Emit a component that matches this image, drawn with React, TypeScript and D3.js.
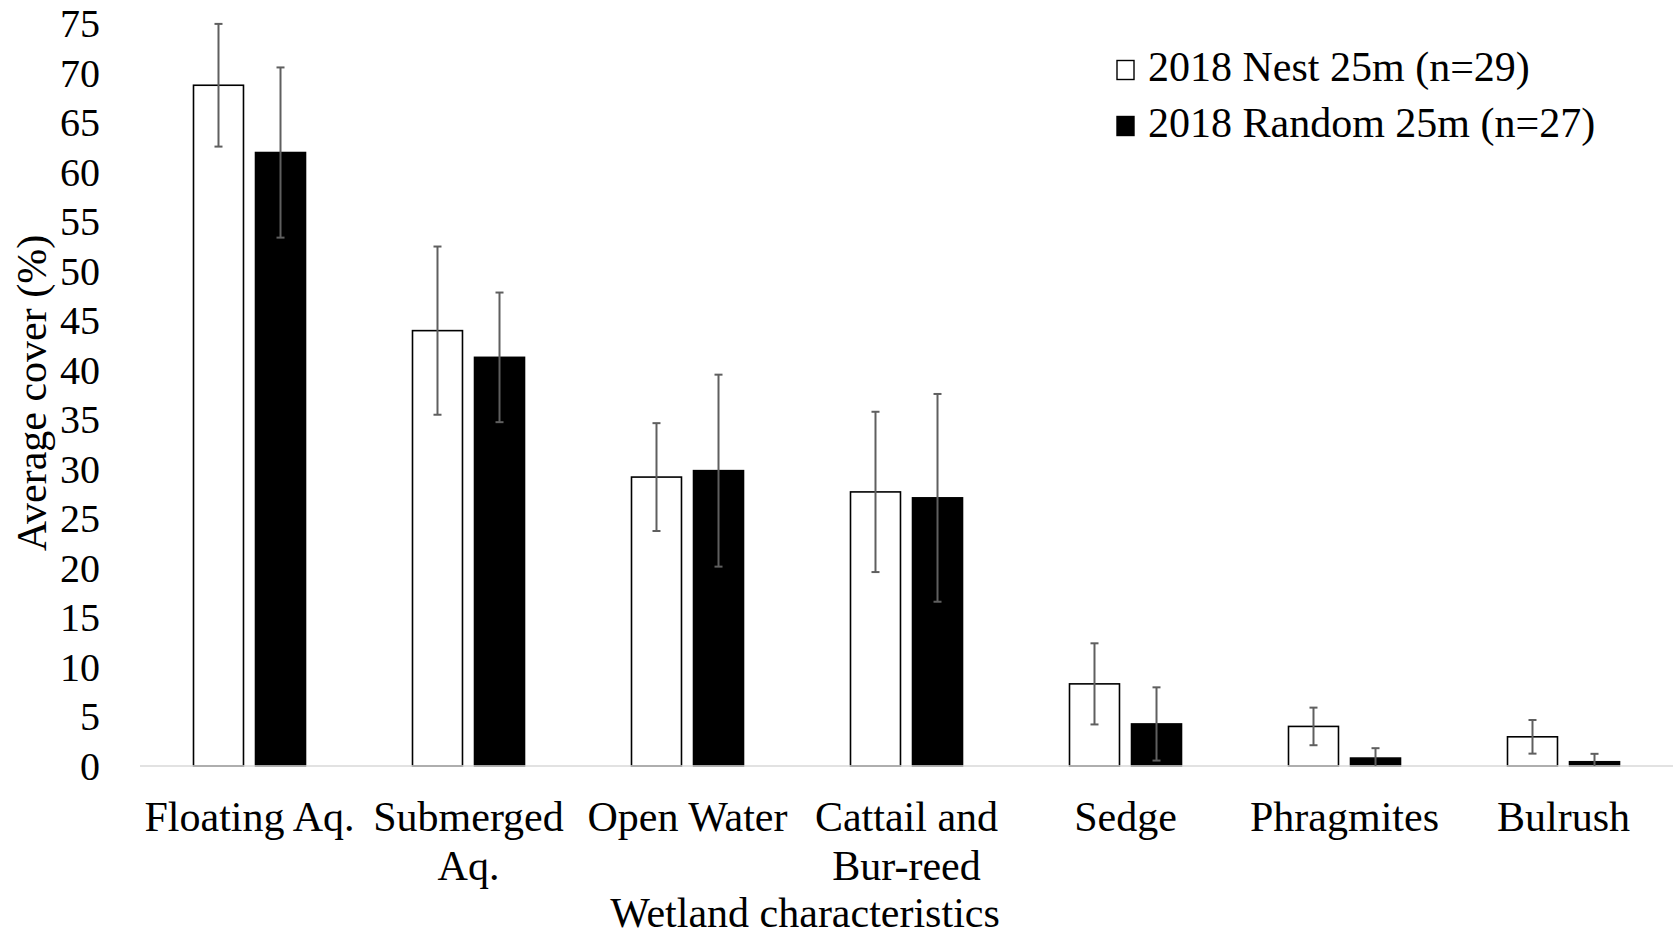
import React from "react";
import * as d3 from "d3";

const categories = [
  "Floating Aq.",
  "Submerged Aq.",
  "Open Water",
  "Cattail and Bur-reed",
  "Sedge",
  "Phragmites",
  "Bulrush",
];
const categoryLines = [
  ["Floating Aq."],
  ["Submerged", "Aq."],
  ["Open Water"],
  ["Cattail and", "Bur-reed"],
  ["Sedge"],
  ["Phragmites"],
  ["Bulrush"],
];
const seriesNames = ["2018 Nest 25m (n=29)", "2018 Random 25m (n=27)"];
const nestMean = [68.8, 44.0, 29.2, 27.7, 8.3, 4.0, 2.95];
const nestErr = [6.2, 8.5, 5.45, 8.1, 4.1, 1.9, 1.7];
const randomMean = [62.0, 41.3, 29.85, 27.1, 4.25, 0.8, 0.43];
const randomErr = [8.6, 6.55, 9.7, 10.5, 3.7, 1.0, 0.8];
const yTicks = [0, 5, 10, 15, 20, 25, 30, 35, 40, 45, 50, 55, 60, 65, 70, 75];

const W = 1677;
const H = 938;
const FONT = "'Liberation Serif', 'Times New Roman', serif";

export default function App() {
  const x = d3.scaleBand<string>().domain(categories).range([140, 1673]).paddingInner(0).paddingOuter(0);
  const y = d3.scaleLinear().domain([0, 75]).range([766, 23.9]);
  const bw = x.bandwidth();
  const xSub = d3
    .scaleBand<string>()
    .domain(seriesNames)
    .range([bw / 2 - 56, bw / 2 + 56])
    .paddingInner(0.194)
    .paddingOuter(0);
  const barW = xSub.bandwidth();

  const series = [
    { name: seriesNames[0], mean: nestMean, err: nestErr, fill: "#ffffff", stroke: "#000000" },
    { name: seriesNames[1], mean: randomMean, err: randomErr, fill: "#000000", stroke: "#000000" },
  ];

  const capHalf = 4;
  const errColor = "#5f5f5f";

  return (
    <div style={{ position: "absolute", left: 0, top: 0 }}>
      <svg width={W} height={H} style={{ display: "block", background: "#fff" }}>
        {/* y tick labels */}
        {yTicks.map((t) => (
          <text
            key={t}
            x={100}
            y={y(t) + 13.5}
            textAnchor="end"
            fontFamily={FONT}
            fontSize={40}
            fill="#000"
          >
            {t}
          </text>
        ))}

        {/* bars */}
        {series.map((s) =>
          categories.map((c, i) => {
            const bx = (x(c) as number) + (xSub(s.name) as number);
            const v = s.mean[i];
            return (
              <rect
                key={s.name + c}
                x={bx}
                y={y(v)}
                width={barW}
                height={y(0) - y(v)}
                fill={s.fill}
                stroke={s.stroke}
                strokeWidth={1.6}
              />
            );
          })
        )}

        {/* x axis line */}
        <line x1={140} x2={1673} y1={y(0)} y2={y(0)} stroke="#d9d9d9" strokeWidth={1.5} />

        {/* error bars */}
        {series.map((s) =>
          categories.map((c, i) => {
            const cx = (x(c) as number) + (xSub(s.name) as number) + barW / 2;
            const v = s.mean[i];
            const e = s.err[i];
            const lo = Math.max(0, v - e);
            const hi = v + e;
            return (
              <g key={"err" + s.name + c} stroke={errColor} strokeWidth={2}>
                <line x1={cx} x2={cx} y1={y(hi)} y2={y(lo)} />
                <line x1={cx - capHalf} x2={cx + capHalf} y1={y(hi)} y2={y(hi)} />
                {v - e > 0 && <line x1={cx - capHalf} x2={cx + capHalf} y1={y(lo)} y2={y(lo)} />}
              </g>
            );
          })
        )}

        {/* category labels */}
        {categories.map((c, i) => {
          const cx = (x(c) as number) + bw / 2;
          return (
            <text key={"lab" + c} x={cx} y={831} textAnchor="middle" fontFamily={FONT} fontSize={42} fill="#000">
              {categoryLines[i].map((ln, j) => (
                <tspan key={j} x={cx} y={831 + j * 48.5}>
                  {ln}
                </tspan>
              ))}
            </text>
          );
        })}

        {/* axis titles */}
        <text x={805} y={927} textAnchor="middle" fontFamily={FONT} fontSize={42} fill="#000">
          Wetland characteristics
        </text>
        <text
          transform="translate(46,393) rotate(-90)"
          textAnchor="middle"
          fontFamily={FONT}
          fontSize={42}
          fill="#000"
        >
          Average cover (%)
        </text>

        {/* legend */}
        {series.map((s, i) => {
          const base = 81 + i * 56;
          return (
            <g key={"leg" + s.name}>
              <rect x={1117} y={base - 20.5} width={17} height={19} fill={s.fill} stroke="#000" strokeWidth={1.4} />
              <text x={1148} y={base} fontFamily={FONT} fontSize={42} fill="#000">
                {s.name}
              </text>
            </g>
          );
        })}
      </svg>
    </div>
  );
}
